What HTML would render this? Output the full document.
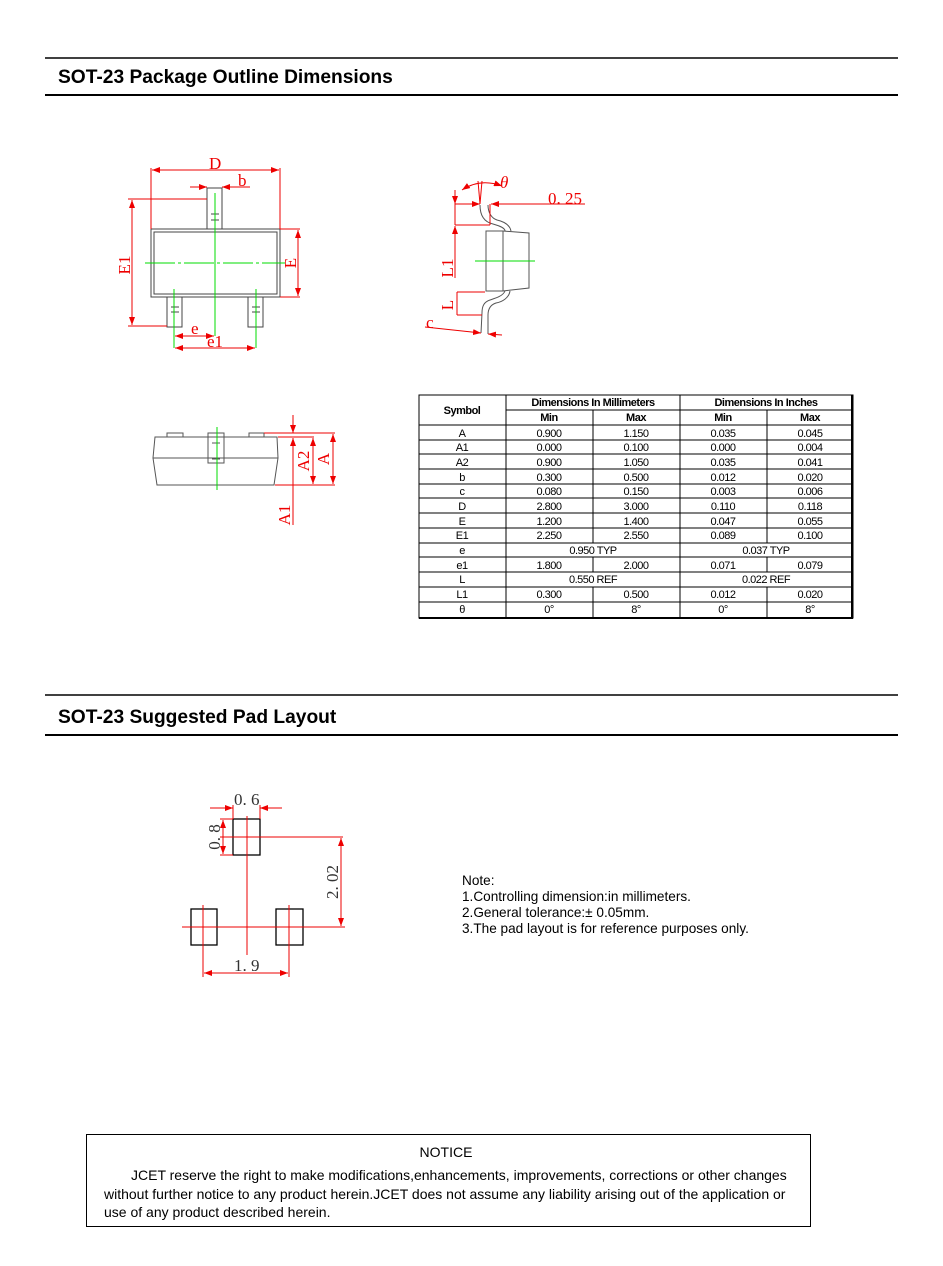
<!DOCTYPE html>
<html><head><meta charset="utf-8"><style>
body{margin:0;background:#fff;}
svg{display:block}
.h{font-family:"Liberation Sans",sans-serif;font-weight:bold;font-size:19.2px;fill:#000}
.r{font-family:"Liberation Serif",serif;fill:#e00;font-size:17px}
.t{font-family:"Liberation Sans",sans-serif;font-size:11px;fill:#000;text-anchor:middle;letter-spacing:-0.5px}
.n{font-family:"Liberation Sans",sans-serif;font-size:13.6px;fill:#000}
.m{font-family:"Liberation Sans",sans-serif;font-size:14px;fill:#000}
</style></head><body>
<svg width="943" height="1266" viewBox="0 0 943 1266" xmlns="http://www.w3.org/2000/svg">
<defs>
<marker id="a" markerWidth="8" markerHeight="6" refX="8" refY="3" orient="auto-start-reverse" markerUnits="userSpaceOnUse"><path d="M0,0 L8,3 L0,6 z" fill="#e00"/></marker>
</defs>
<!-- headers -->
<line x1="45" y1="58" x2="898" y2="58" stroke="#000" stroke-width="1.5"/>
<text x="58" y="83" class="h">SOT-23 Package Outline Dimensions</text>
<line x1="45" y1="95" x2="898" y2="95" stroke="#000" stroke-width="2"/>
<line x1="45" y1="695" x2="898" y2="695" stroke="#000" stroke-width="1.5"/>
<text x="58" y="723" class="h">SOT-23 Suggested Pad Layout</text>
<line x1="45" y1="735" x2="898" y2="735" stroke="#000" stroke-width="2"/>

<!-- top view -->
<g fill="none" stroke="#444" stroke-width="1">
<rect x="151" y="229" width="129" height="68"/>
<rect x="154" y="232" width="123" height="62"/>
<rect x="207" y="188" width="15" height="41"/>
<rect x="167" y="297" width="15" height="30"/>
<rect x="248" y="297" width="15" height="30"/>
<path d="M211,214H219 M211,220H219 M171,307H179 M171,312H179 M252,307H260 M252,312H260"/>
</g>
<g stroke="#0d0" stroke-width="1" fill="none">
<line x1="145" y1="263" x2="285" y2="263" stroke-dasharray="30,3,3,3"/>
<line x1="215" y1="193" x2="215" y2="336"/>
<line x1="174" y1="289" x2="174" y2="348"/>
<line x1="256" y1="289" x2="256" y2="348"/>
</g>
<g stroke="#e00" stroke-width="1" fill="none">
<line x1="151" y1="168" x2="151" y2="229"/><line x1="280" y1="168" x2="280" y2="229"/>
<line x1="152" y1="170" x2="279" y2="170" marker-start="url(#a)" marker-end="url(#a)"/>
<line x1="190" y1="187" x2="207" y2="187" marker-end="url(#a)"/>
<line x1="250" y1="187" x2="222" y2="187" marker-end="url(#a)"/>
<line x1="222" y1="187" x2="250" y2="187"/>
<line x1="128" y1="199" x2="207" y2="199"/><line x1="128" y1="326" x2="167" y2="326"/>
<line x1="132" y1="200" x2="132" y2="325" marker-start="url(#a)" marker-end="url(#a)"/>
<line x1="280" y1="229" x2="300" y2="229"/><line x1="280" y1="297" x2="300" y2="297"/>
<line x1="298" y1="230" x2="298" y2="296" marker-start="url(#a)" marker-end="url(#a)"/>
<line x1="175" y1="336" x2="214" y2="336" marker-start="url(#a)" marker-end="url(#a)"/>
<line x1="175" y1="348" x2="255" y2="348" marker-start="url(#a)" marker-end="url(#a)"/>
</g>
<text x="209" y="169" class="r">D</text>
<text x="238" y="186" class="r">b</text>
<text x="191" y="334" class="r">e</text>
<text x="207" y="347" class="r">e1</text>
<text class="r" transform="translate(130,265) rotate(-90)" text-anchor="middle">E1</text>
<text class="r" transform="translate(296,263) rotate(-90)" text-anchor="middle">E</text>

<!-- side view right -->
<g fill="none" stroke="#555" stroke-width="1">
<rect x="486" y="231" width="17" height="60"/>
<path d="M503,231 L529,233 L529,288 L503,291"/>
<path d="M480,205 C480,215 484,222 493,224 C500,226 505,228 505,231"/>
<path d="M488,205 C488,212 491,218 497,220 C506,222 510,226 511,231"/>
<path d="M505,291 C503,296 496,298 490,300 C484,302 482,306 482,313 L481,333"/>
<path d="M510,291 C509,298 502,302 496,303 C490,305 488,310 488,315 L488,334"/>
</g>
<line x1="475" y1="261" x2="535" y2="261" stroke="#0d0"/>
<g stroke="#e00" stroke-width="1" fill="none">
<line x1="455" y1="204" x2="480" y2="204" marker-end="url(#a)"/>
<line x1="585" y1="204" x2="491" y2="204" marker-end="url(#a)"/>
<line x1="455" y1="204" x2="455" y2="225"/><line x1="455" y1="225" x2="490" y2="225"/>
<line x1="490" y1="204" x2="490" y2="225"/>
<line x1="455" y1="190" x2="455" y2="204" marker-end="url(#a)"/>
<line x1="455" y1="278" x2="455" y2="226" marker-end="url(#a)"/>
<line x1="457" y1="292" x2="485" y2="292"/><line x1="457" y1="315" x2="482" y2="315"/>
<line x1="457" y1="292" x2="457" y2="315"/>
<line x1="425" y1="327" x2="481" y2="333" marker-end="url(#a)"/>
<line x1="502" y1="335" x2="488" y2="334" marker-end="url(#a)"/>
<path d="M462,190 Q480,178 502,186" marker-start="url(#a)" marker-end="url(#a)"/>
<line x1="478" y1="181" x2="480" y2="204"/><line x1="482" y1="181" x2="480" y2="204"/>
</g>
<text x="548" y="204" class="r">0. 25</text>
<text x="500" y="188" class="r" font-style="italic" font-size="14">θ</text>
<text class="r" transform="translate(453,268) rotate(-90)" text-anchor="middle">L1</text>
<text class="r" transform="translate(453,305) rotate(-90)" text-anchor="middle">L</text>
<text x="426" y="328" class="r">c</text>

<!-- bottom side view -->
<g fill="none" stroke="#555" stroke-width="1">
<path d="M155,437 L277,437 L278,458 L274,485 L157,485 L153,458 z"/>
<line x1="153" y1="458" x2="278" y2="458"/>
<rect x="167" y="433" width="16" height="4"/>
<rect x="249" y="433" width="15" height="4"/>
<rect x="208" y="433" width="16" height="30"/>
<line x1="212" y1="443" x2="220" y2="443"/><line x1="212" y1="459" x2="220" y2="459"/>
</g>
<line x1="217" y1="427" x2="217" y2="490" stroke="#0d0"/>
<g stroke="#e00" stroke-width="1" fill="none">
<line x1="264" y1="433" x2="335" y2="433"/>
<line x1="278" y1="437" x2="314" y2="437"/>
<line x1="275" y1="485" x2="335" y2="485"/>
<line x1="293" y1="415" x2="293" y2="433" marker-end="url(#a)"/>
<line x1="293" y1="525" x2="293" y2="438" marker-end="url(#a)"/>
<line x1="313" y1="438" x2="313" y2="484" marker-start="url(#a)" marker-end="url(#a)"/>
<line x1="333" y1="434" x2="333" y2="484" marker-start="url(#a)" marker-end="url(#a)"/>
</g>
<text class="r" transform="translate(309,461) rotate(-90)" text-anchor="middle">A2</text>
<text class="r" transform="translate(329,459) rotate(-90)" text-anchor="middle">A</text>
<text class="r" transform="translate(290,515) rotate(-90)" text-anchor="middle">A1</text>

<!-- table -->
<g stroke="#000" stroke-width="1" fill="none">
<rect x="419" y="395" width="434" height="223"/>
<line x1="419" y1="618" x2="853" y2="618" stroke-width="2"/>
<line x1="852" y1="395" x2="852" y2="618" stroke-width="2"/>
<line x1="506" y1="395" x2="506" y2="618"/>
<line x1="680" y1="395" x2="680" y2="618"/>
<line x1="506" y1="410" x2="853" y2="410"/>
<line x1="419" y1="425" x2="853" y2="425"/>
<path d="M593,410V543 M593,557V572 M593,587V618 M767,410V543 M767,557V572 M767,587V618"/>
<path d="M419,440H853 M419,454H853 M419,469H853 M419,484H853 M419,498H853 M419,513H853 M419,528H853 M419,543H853 M419,557H853 M419,572H853 M419,587H853 M419,602H853"/>
</g>
<g class="t">
<text x="462" y="414" font-weight="bold">Symbol</text>
<text x="593" y="406" font-weight="bold">Dimensions In Millimeters</text>
<text x="766" y="406" font-weight="bold">Dimensions In Inches</text>
<text x="549" y="421" font-weight="bold">Min</text><text x="636" y="421" font-weight="bold">Max</text>
<text x="723" y="421" font-weight="bold">Min</text><text x="810" y="421" font-weight="bold">Max</text>
</g>
<g class="t">
<text x="462" y="437">A</text><text x="549" y="437">0.900</text><text x="636" y="437">1.150</text><text x="723" y="437">0.035</text><text x="810" y="437">0.045</text>
<text x="462" y="451">A1</text><text x="549" y="451">0.000</text><text x="636" y="451">0.100</text><text x="723" y="451">0.000</text><text x="810" y="451">0.004</text>
<text x="462" y="466">A2</text><text x="549" y="466">0.900</text><text x="636" y="466">1.050</text><text x="723" y="466">0.035</text><text x="810" y="466">0.041</text>
<text x="462" y="481">b</text><text x="549" y="481">0.300</text><text x="636" y="481">0.500</text><text x="723" y="481">0.012</text><text x="810" y="481">0.020</text>
<text x="462" y="495">c</text><text x="549" y="495">0.080</text><text x="636" y="495">0.150</text><text x="723" y="495">0.003</text><text x="810" y="495">0.006</text>
<text x="462" y="510">D</text><text x="549" y="510">2.800</text><text x="636" y="510">3.000</text><text x="723" y="510">0.110</text><text x="810" y="510">0.118</text>
<text x="462" y="525">E</text><text x="549" y="525">1.200</text><text x="636" y="525">1.400</text><text x="723" y="525">0.047</text><text x="810" y="525">0.055</text>
<text x="462" y="539">E1</text><text x="549" y="539">2.250</text><text x="636" y="539">2.550</text><text x="723" y="539">0.089</text><text x="810" y="539">0.100</text>
<text x="462" y="554">e</text><text x="593" y="554">0.950 TYP</text><text x="766" y="554">0.037 TYP</text>
<text x="462" y="569">e1</text><text x="549" y="569">1.800</text><text x="636" y="569">2.000</text><text x="723" y="569">0.071</text><text x="810" y="569">0.079</text>
<text x="462" y="583">L</text><text x="593" y="583">0.550 REF</text><text x="766" y="583">0.022 REF</text>
<text x="462" y="598">L1</text><text x="549" y="598">0.300</text><text x="636" y="598">0.500</text><text x="723" y="598">0.012</text><text x="810" y="598">0.020</text>
<text x="462" y="613">θ</text><text x="549" y="613">0°</text><text x="636" y="613">8°</text><text x="723" y="613">0°</text><text x="810" y="613">8°</text>
</g>

<!-- pad layout -->
<g fill="none" stroke="#000" stroke-width="1.3">
<rect x="233" y="819" width="27" height="36"/>
<rect x="191" y="909" width="26" height="36"/>
<rect x="276" y="909" width="27" height="36"/>
</g>
<g stroke="#e00" stroke-width="1" fill="none">
<line x1="247" y1="816" x2="247" y2="955"/>
<line x1="220" y1="837" x2="343" y2="837"/>
<line x1="182" y1="927" x2="345" y2="927"/>
<line x1="203" y1="905" x2="203" y2="977"/>
<line x1="289" y1="905" x2="289" y2="977"/>
<line x1="204" y1="973" x2="288" y2="973" marker-start="url(#a)" marker-end="url(#a)"/>
<line x1="341" y1="838" x2="341" y2="926" marker-start="url(#a)" marker-end="url(#a)"/>
<line x1="233" y1="805" x2="233" y2="819"/><line x1="260" y1="805" x2="260" y2="819"/>
<line x1="210" y1="808" x2="233" y2="808" marker-end="url(#a)"/>
<line x1="282" y1="808" x2="260" y2="808" marker-end="url(#a)"/>
<line x1="220" y1="819" x2="233" y2="819"/><line x1="220" y1="855" x2="233" y2="855"/>
<line x1="223" y1="820" x2="223" y2="854" marker-start="url(#a)" marker-end="url(#a)"/>
</g>
<text x="234" y="805" class="r" font-size="15" style="fill:#333">0. 6</text>
<text x="234" y="971" class="r" font-size="15" style="fill:#333">1. 9</text>
<text class="r" font-size="15" style="fill:#333" transform="translate(220,837) rotate(-90)" text-anchor="middle">0. 8</text>
<text class="r" font-size="15" style="fill:#333" transform="translate(338,882) rotate(-90)" text-anchor="middle">2. 02</text>

<g class="n">
<text x="462" y="885">Note:</text>
<text x="462" y="901">1.Controlling dimension:in  millimeters.</text>
<text x="462" y="917">2.General tolerance:± 0.05mm.</text>
<text x="462" y="933">3.The pad layout is for reference purposes only.</text>
</g>

<!-- notice -->
<rect x="86.5" y="1134.5" width="724" height="92" fill="none" stroke="#000" stroke-width="1"/>
<text x="446" y="1157" class="m" font-size="15" text-anchor="middle">NOTICE</text>
<text x="131" y="1180" class="m">JCET  reserve the right to make modifications,enhancements, improvements, corrections or other changes</text>
<text x="104" y="1199" class="m">without further notice to any product herein.JCET does not assume any liability arising out of the application or</text>
<text x="104" y="1217" class="m">use of any product described herein.</text>
</svg>
</body></html>
